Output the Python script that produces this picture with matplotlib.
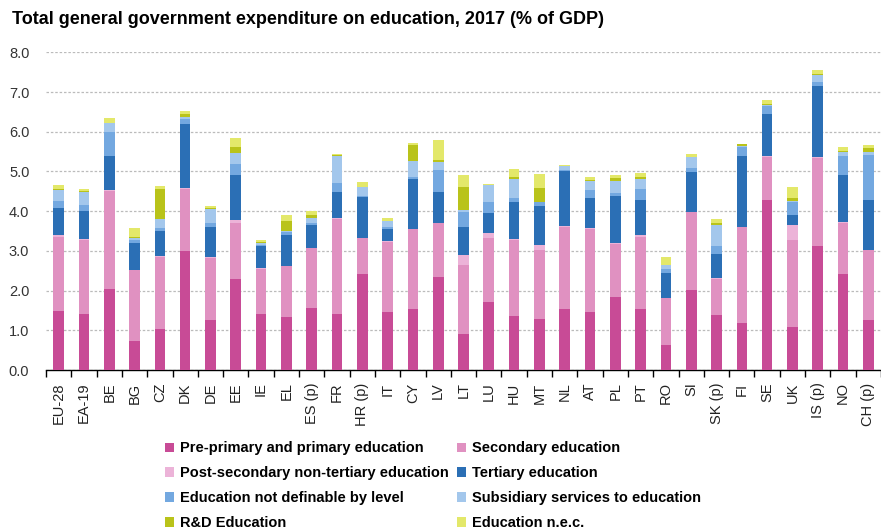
import numpy as np
import matplotlib
matplotlib.use("Agg")
import matplotlib.pyplot as plt
from matplotlib.patches import Patch

plt.rcParams['font.family'] = ['Liberation Sans', 'DejaVu Sans']

countries = ['EU-28', 'EA-19', 'BE', 'BG', 'CZ', 'DK', 'DE', 'EE', 'IE', 'EL',
             'ES (p)', 'FR', 'HR (p)', 'IT', 'CY', 'LV', 'LT', 'LU', 'HU', 'MT',
             'NL', 'AT', 'PL', 'PT', 'RO', 'SI', 'SK (p)', 'FI', 'SE', 'UK',
             'IS (p)', 'NO', 'CH (p)']

primary = [1.48, 1.42, 2.05, 0.74, 1.03, 3.00, 1.25, 2.29, 1.42, 1.34,
           1.57, 1.42, 2.42, 1.45, 1.53, 2.34, 0.91, 1.71, 1.37, 1.29,
           1.53, 1.45, 1.85, 1.54, 0.63, 2.02, 1.39, 1.19, 4.29, 1.08,
           3.13, 2.42, 1.25]
secondary = [1.86, 1.86, 2.46, 1.79, 1.81, 1.57, 1.57, 1.42, 1.13, 1.27,
             1.50, 2.38, 0.91, 1.78, 2.02, 1.35, 1.74, 1.62, 1.91, 1.72,
             2.08, 2.11, 1.33, 1.80, 1.18, 1.95, 0.91, 2.41, 1.08, 2.20,
             2.22, 1.29, 1.76]
post_secondary = [0.06, 0.02, 0.02, 0.00, 0.02, 0.02, 0.02, 0.07, 0.02, 0.01,
                  0.01, 0.02, 0.00, 0.01, 0.01, 0.02, 0.25, 0.12, 0.01, 0.14,
                  0.01, 0.02, 0.01, 0.05, 0.01, 0.01, 0.01, 0.01, 0.01, 0.36,
                  0.01, 0.02, 0.01]
tertiary = [0.69, 0.71, 0.87, 0.68, 0.64, 1.61, 0.77, 1.12, 0.54, 0.79,
            0.56, 0.65, 1.02, 0.32, 1.25, 0.78, 0.71, 0.51, 0.95, 0.97,
            1.39, 0.75, 1.20, 0.90, 0.63, 1.00, 0.60, 1.77, 1.07, 0.27,
            1.79, 1.19, 1.26]
not_definable = [0.17, 0.15, 0.59, 0.07, 0.08, 0.12, 0.10, 0.28, 0.04, 0.07,
                 0.06, 0.25, 0.04, 0.03, 0.04, 0.54, 0.38, 0.28, 0.09, 0.11,
                 0.02, 0.19, 0.06, 0.28, 0.10, 0.10, 0.22, 0.23, 0.21, 0.32,
                 0.11, 0.46, 1.13]
subsidiary = [0.26, 0.31, 0.24, 0.05, 0.21, 0.05, 0.35, 0.28, 0.06, 0.02,
              0.14, 0.68, 0.22, 0.16, 0.41, 0.21, 0.04, 0.41, 0.48, 0.01,
              0.10, 0.24, 0.30, 0.24, 0.09, 0.28, 0.52, 0.04, 0.02, 0.02,
              0.18, 0.12, 0.09]
rnd = [0.03, 0.03, 0.00, 0.02, 0.76, 0.07, 0.02, 0.15, 0.02, 0.26,
       0.06, 0.01, 0.01, 0.01, 0.40, 0.05, 0.58, 0.02, 0.06, 0.35,
       0.01, 0.03, 0.09, 0.04, 0.01, 0.01, 0.04, 0.03, 0.01, 0.09,
       0.01, 0.01, 0.08]
nec = [0.11, 0.05, 0.11, 0.23, 0.09, 0.08, 0.06, 0.22, 0.05, 0.15,
       0.10, 0.03, 0.11, 0.08, 0.05, 0.49, 0.31, 0.02, 0.20, 0.35,
       0.01, 0.08, 0.08, 0.12, 0.19, 0.07, 0.12, 0.02, 0.11, 0.27,
       0.10, 0.10, 0.09]

series = [primary, secondary, post_secondary, tertiary,
          not_definable, subsidiary, rnd, nec]
labels = ['Pre-primary and primary education', 'Secondary education',
          'Post-secondary non-tertiary education', 'Tertiary education',
          'Education not definable by level', 'Subsidiary services to education',
          'R&D Education', 'Education n.e.c.']
colors = ['#C84B96', '#E091C1', '#ECB3D8', '#2B6FB5',
          '#73A8E0', '#A3C7EC', '#B9C31A', '#E3E86A']

fig = plt.figure(figsize=(8.81, 5.31), dpi=100)
ax = fig.add_axes([46 / 881, 1 - 370 / 531, 1 - 46 / 881, (370 - 52.3) / 531])

x = np.arange(len(countries))
bottom = np.zeros(len(countries))
for vals, lab, col in zip(series, labels, colors):
    ax.bar(x, vals, 0.42, bottom=bottom, color=col, label=lab, zorder=3)
    bottom += np.array(vals)

ax.set_xlim(-0.5, len(countries) - 0.5)
ax.set_ylim(0, 8)
ax.set_yticks(np.arange(0, 8.1, 1.0))
ax.set_yticklabels([f'{v:.1f}' for v in np.arange(0, 8.1, 1.0)])
ax.yaxis.grid(True, color='#BBBBBB', linestyle=(0, (2, 1.5)), linewidth=0.9, zorder=0)
ax.tick_params(axis='y', length=0, pad=12, labelsize=10.5, labelcolor='#333333')

ax.set_xticks(x)
ax.set_xticklabels(countries, rotation=90, fontsize=10.5, color='#222222')
ax.set_xticks(np.arange(-0.5, len(countries), 1.0), minor=True)
ax.tick_params(axis='x', which='major', length=0, pad=9)
ax.tick_params(axis='x', which='minor', length=5, width=1, color='black', direction='out')

for s in ['left', 'right', 'top']:
    ax.spines[s].set_visible(False)
ax.spines['bottom'].set_color('black')
ax.spines['bottom'].set_linewidth(1)

fig.text(12 / 881, 1 - 20 / 531, 'Total general government expenditure on education, 2017 (% of GDP)',
         fontsize=13, fontweight='bold', va='center', ha='left')

# legend fills column-wise, so reorder to read row by row like the original
order = [0, 2, 4, 6, 1, 3, 5, 7]
handles = [Patch(facecolor=colors[i], edgecolor='none') for i in order]
fig.legend(handles, [labels[i] for i in order], ncol=2, loc='upper left',
           bbox_to_anchor=(158 / 881, 1 - 434 / 531), frameon=False,
           handlelength=0.6, handleheight=0.6, handletextpad=0.4,
           columnspacing=0.6, labelspacing=0.75, borderpad=0,
           prop={'weight': 'bold', 'size': 10.5})

fig.savefig('out.png', dpi=100)
